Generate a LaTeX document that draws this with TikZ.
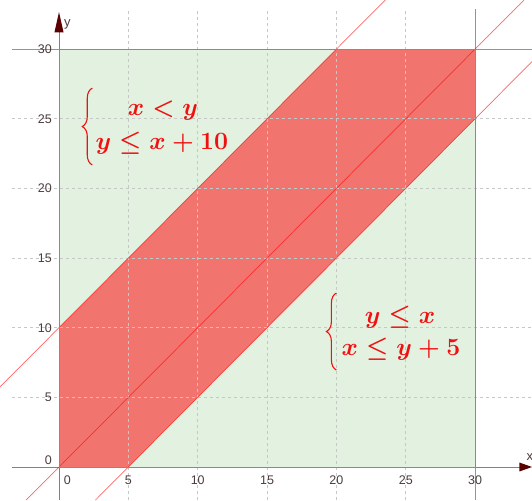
\documentclass[tikz,border=0pt]{standalone}
\usepackage{amsmath}
\usepackage[no-math]{fontspec}
\setsansfont{Liberation Sans}
\usetikzlibrary{decorations.pathreplacing}
\definecolor{gfill}{HTML}{E2F1E0}
\definecolor{gborder}{HTML}{7C9E48}
\definecolor{bandred}{HTML}{F1756E}
\definecolor{ticktext}{HTML}{4A3C3C}
\definecolor{arrowred}{HTML}{5A0000}
\definecolor{eqred}{HTML}{F01010}
\begin{document}
\begin{tikzpicture}[x=13.87pt,y=13.93pt,
  gridline/.style={draw=black!22, line width=0.6pt, dash pattern=on 3pt off 3pt},
  redline/.style={draw=red, line width=0.7pt, opacity=0.6},
  axisline/.style={draw=red, line width=0.9pt, opacity=0.7},
  ticklabel/.style={font=\sffamily\fontsize{12.5}{14}\selectfont, text=ticktext, inner sep=0pt},
  eqlabel/.style={text=eqred, inner sep=0pt, anchor=base, font=\fontsize{25.5}{30}\selectfont\boldmath},
  bracestroke/.style={draw=eqred, line width=1.1pt, decorate, decoration={brace, amplitude=10pt}}]
\useasboundingbox (-4.254,-2.369) rectangle (34.102,33.525);
% regions
\fill[gfill] (0,0) rectangle (30,30);
\fill[bandred] (0,0) -- (5,0) -- (30,25) -- (30,30) -- (20,30) -- (0,10) -- cycle;
% grid
\foreach \i in {5,10,15,20,25} {
  \draw[gridline] (\i,-2.369) -- (\i,32.9);
  \draw[gridline] (-3.4,\i) -- (34.102,\i);
}
% boundary lines
\draw[redline] (-2.369,-2.369) -- (33.525,33.525);
\draw[redline] (-4.254,5.746) -- (23.525,33.525);
\draw[redline] (2.631,-2.369) -- (34.102,29.102);
\draw[redline] (30,-2.369) -- (30,32.9);
\draw[redline] (-3.4,30) -- (34.102,30);
% axes
\draw[axisline] (-3.4,0) -- (33.3,0);
\draw[axisline] (0,-2.369) -- (0,31.5);
\fill[arrowred] (34.102,0) -- (33.2,0.32) -- (33.2,-0.32) -- cycle;
\fill[arrowred] (0,32.66) -- (-0.33,31.2) -- (0.33,31.2) -- cycle;
\node[ticklabel, font=\sffamily\fontsize{13}{14}\selectfont] (xlab) at (33.95,0.7) {x};
\node[ticklabel, font=\sffamily\fontsize{13}{14}\selectfont] (ylab) at (0.6,31.8) {y};
% square border
\draw[gborder, line width=1pt] (0,0) rectangle (30,30);
% tick labels
\foreach \i in {5,10,15,20,25,30} {
  \node[ticklabel, anchor=north] (xt\i) at (\i,-0.62) {\i};
  \node[ticklabel, anchor=east] (yt\i) at (-0.5,\i) {\i};
}
\node[ticklabel, anchor=north] (xt0) at (0.6,-0.62) {0};
\node[ticklabel, anchor=east] (yt0) at (-0.5,0.5) {0};
% systems
\coordinate (braceAbot) at (2.4,21.68);
\coordinate (braceAtop) at (2.4,27.2);
\draw[bracestroke] (braceAbot) -- (braceAtop);
\node[eqlabel] (a1) at (7.5,25.2) {$x<y$};
\node[eqlabel] (a2) at (7.42,22.76) {$y\le x+10$};
\coordinate (braceBbot) at (20.0,6.96);
\coordinate (braceBtop) at (20.0,12.49);
\draw[bracestroke] (braceBbot) -- (braceBtop);
\node[eqlabel] (b1) at (24.59,10.31) {$y\le x$};
\node[eqlabel] (b2) at (24.66,7.97) {$x\le y+5$};
\end{tikzpicture}
\end{document}
